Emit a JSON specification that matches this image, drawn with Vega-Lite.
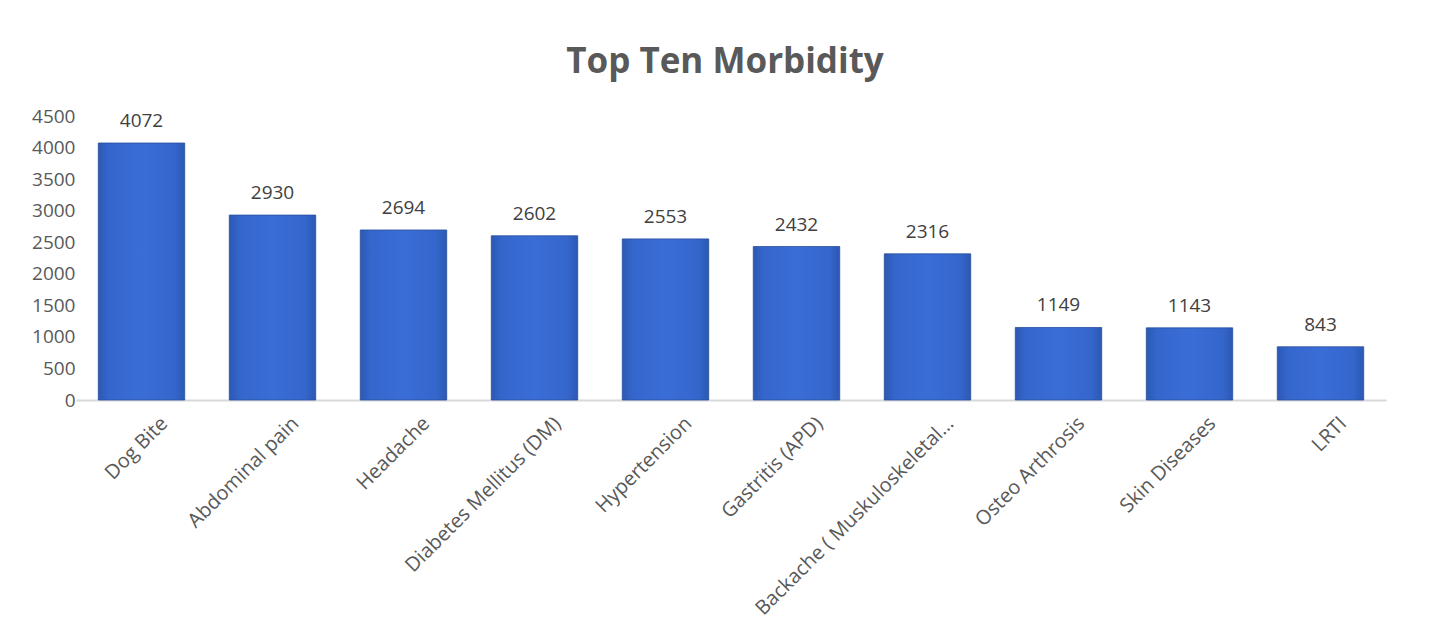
{
  "$schema": "https://vega.github.io/schema/vega-lite/v6.json",
  "autosize": "none",
  "width": 1310,
  "height": 284,
  "padding": {"left": 76, "top": 116, "right": 43, "bottom": 237},
  "background": "white",
  "title": {"text": "Top Ten Morbidity", "fontSize": 35, "fontWeight": "bold", "font": "Open Sans", "color": "#595959", "offset": 27, "dx": -6, "anchor": "middle"},
  "config": {"view": {"stroke": null}, "font": "Open Sans"},
  "data": {"values": [
    {"cat": "Dog Bite", "v": 4072},
    {"cat": "Abdominal pain", "v": 2930},
    {"cat": "Headache", "v": 2694},
    {"cat": "Diabetes Mellitus (DM)", "v": 2602},
    {"cat": "Hypertension", "v": 2553},
    {"cat": "Gastritis (APD)", "v": 2432},
    {"cat": "Backache ( Muskuloskeletal…", "v": 2316},
    {"cat": "Osteo Arthrosis", "v": 1149},
    {"cat": "Skin Diseases", "v": 1143},
    {"cat": "LRTI", "v": 843}
  ]},
  "encoding": {
    "x": {"field": "cat", "type": "nominal", "sort": null,
      "scale": {"paddingInner": 0.34, "paddingOuter": 0.17},
      "axis": {"title": null, "labelAngle": -45, "labelFontSize": 20, "labelColor": "#595959", "ticks": false, "domainColor": "#d9d9d9", "domainWidth": 2, "labelPadding": 13, "labelOffset": 16, "labelLimit": 400}},
    "y": {"field": "v", "type": "quantitative",
      "scale": {"domain": [0, 4500], "nice": false},
      "axis": {"title": null, "format": "d", "values": [0,500,1000,1500,2000,2500,3000,3500,4000,4500], "grid": false, "domain": false, "ticks": false, "labelFontSize": 19, "labelColor": "#595959", "labelPadding": 1}}
  },
  "layer": [
    {"mark": {"type": "bar", "stroke": "#2a4f9e", "strokeWidth": 0.8,
      "color": {"gradient": "linear", "x1": 0, "x2": 1, "y1": 0, "y2": 0,
        "stops": [{"offset": 0, "color": "#2b58b3"}, {"offset": 0.12, "color": "#3566cc"}, {"offset": 0.5, "color": "#3a6dd6"}, {"offset": 0.88, "color": "#3566cc"}, {"offset": 1, "color": "#2b58b3"}]}}},
    {"mark": {"type": "text", "dy": -22, "fontSize": 19, "color": "#404040"},
      "encoding": {"text": {"field": "v", "type": "quantitative", "format": "d"}}}
  ]
}
